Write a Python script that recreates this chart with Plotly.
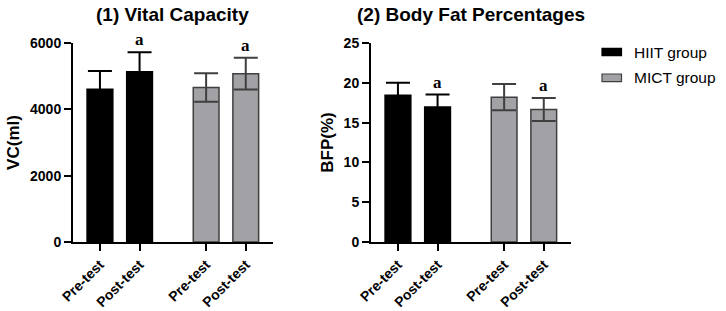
import plotly.graph_objects as go

# ---- data ----
conditions = ["Pre-test", "Post-test"]
groups = ["HIIT group", "MICT group"]

vc_hiit_mean = [4604, 5135]
vc_hiit_sd = [550, 585]
vc_mict_mean = [4660, 5075]
vc_mict_sd = [430, 480]

bfp_hiit_mean = [18.45, 16.95]
bfp_hiit_sd = [1.55, 1.57]
bfp_mict_mean = [18.2, 16.65]
bfp_mict_sd = [1.65, 1.45]

vc_ticks = [0, 2000, 4000, 6000]
bfp_ticks = [0, 5, 10, 15, 20, 25]
sig_label = "a"

# ---- layout positions ----
hiit_pos = [0, 1]
mict_pos = [2.68, 3.68]
xrange_ = [-0.68, 4.36]
bar_w = 0.65

HIIT_COLOR = "#000000"
MICT_COLOR = "#a2a2a6"
MICT_LINE = "#3f3f3f"
FONT = "Liberation Sans, Arial, sans-serif"

fig = go.Figure()


def add_panel(xa, ya, hm, hs, mm, ms):
    fig.add_trace(go.Bar(
        x=hiit_pos, y=hm, width=bar_w, name=groups[0], showlegend=False,
        marker=dict(color=HIIT_COLOR, line=dict(color="#000000", width=1.5)),
        error_y=dict(type="data", array=hs, visible=True, color="#000000",
                     thickness=2, width=12),
        xaxis=xa, yaxis=ya))
    fig.add_trace(go.Bar(
        x=mict_pos, y=mm, width=bar_w, name=groups[1], showlegend=False,
        marker=dict(color=MICT_COLOR, line=dict(color=MICT_LINE, width=1.5)),
        error_y=dict(type="data", array=ms, visible=True, color=MICT_LINE,
                     thickness=2, width=12),
        xaxis=xa, yaxis=ya))
    # significance markers on post-test bars
    for pos, m, s in [(hiit_pos[1], hm[1], hs[1]), (mict_pos[1], mm[1], ms[1])]:
        fig.add_annotation(x=pos, y=m + s, xref=xa, yref=ya, text="<b>%s</b>" % sig_label,
                           showarrow=False, yanchor="bottom", yshift=1,
                           font=dict(family="Liberation Serif, Times New Roman, serif",
                                     size=17, color="#000000"))


add_panel("x", "y", vc_hiit_mean, vc_hiit_sd, vc_mict_mean, vc_mict_sd)
add_panel("x2", "y2", bfp_hiit_mean, bfp_hiit_sd, bfp_mict_mean, bfp_mict_sd)

tickvals = hiit_pos + mict_pos
ticktext = ["<b>%s</b>" % c for c in conditions] * 2

xcommon = dict(range=xrange_, tickvals=tickvals, ticktext=ticktext, tickangle=-45,
               showline=True, linecolor="#000000", linewidth=2, ticks="outside",
               ticklen=7, tickwidth=2, tickcolor="#000000", showgrid=False,
               zeroline=False, fixedrange=True, automargin=False,
               tickfont=dict(family=FONT, size=14, color="#000000"))
ycommon = dict(showline=True, linecolor="#000000", linewidth=2, ticks="outside",
               ticklen=7, tickwidth=2, tickcolor="#000000", showgrid=False,
               zeroline=False, fixedrange=True, automargin=False,
               tickfont=dict(family=FONT, size=14, color="#000000"))

H = 311.0
W = 726.0
ydom = [1 - 242 / H, 1 - 43 / H]

fig.update_layout(
    width=726, height=311,
    margin=dict(l=0, r=0, t=0, b=0, pad=0, autoexpand=False),
    paper_bgcolor="white", plot_bgcolor="white",
    showlegend=False,
    bargap=0,
    xaxis=dict(domain=[73 / W, 272.7 / W], anchor="y", **xcommon),
    xaxis2=dict(domain=[371 / W, 570.7 / W], anchor="y2", **xcommon),
    yaxis=dict(domain=ydom, anchor="x", range=[0, 6000], tickvals=vc_ticks,
               ticktext=["<b>%d</b>" % v for v in vc_ticks],
               title=dict(text="<b>VC(ml)</b>", standoff=6,
                          font=dict(family=FONT, size=17, color="#000000")),
               **ycommon),
    yaxis2=dict(domain=ydom, anchor="x2", range=[0, 25], tickvals=bfp_ticks,
                ticktext=["<b>%d</b>" % v for v in bfp_ticks],
                title=dict(text="<b>BFP(%)</b>", standoff=6,
                           font=dict(family=FONT, size=17, color="#000000")),
                **ycommon),
)

# panel titles
for txt, xc in [("(1) Vital Capacity", (73 + 272.7) / 2 / W),
                ("(2) Body Fat Percentages", (371 + 570.7) / 2 / W)]:
    fig.add_annotation(x=xc, y=1 - 15 / H, xref="paper", yref="paper",
                       text="<b>%s</b>" % txt, showarrow=False,
                       xanchor="center", yanchor="middle",
                       font=dict(family=FONT, size=19, color="#000000"))

# legend (drawn manually to match the rectangular swatches)
legend_rows = [(groups[0], HIIT_COLOR, "#000000", 48.3, 55.7, 52.5),
               (groups[1], MICT_COLOR, MICT_LINE, 74.0, 81.7, 77.7)]
for name, fill, line, y0, y1, yc in legend_rows:
    fig.add_shape(type="rect", xref="paper", yref="paper",
                  x0=602 / W, x1=621.5 / W, y0=1 - y1 / H, y1=1 - y0 / H,
                  fillcolor=fill, line=dict(color=line, width=1.2))
    fig.add_annotation(x=632 / W, y=1 - yc / H, xref="paper", yref="paper",
                       text=name, showarrow=False, xanchor="left", yanchor="middle",
                       font=dict(family=FONT, size=15.5, color="#000000"))

fig.write_html("out.html",
               config={"displayModeBar": False, "staticPlot": True},
               post_script="document.body.style.margin='0';"
                           "document.body.style.overflow='hidden';")
